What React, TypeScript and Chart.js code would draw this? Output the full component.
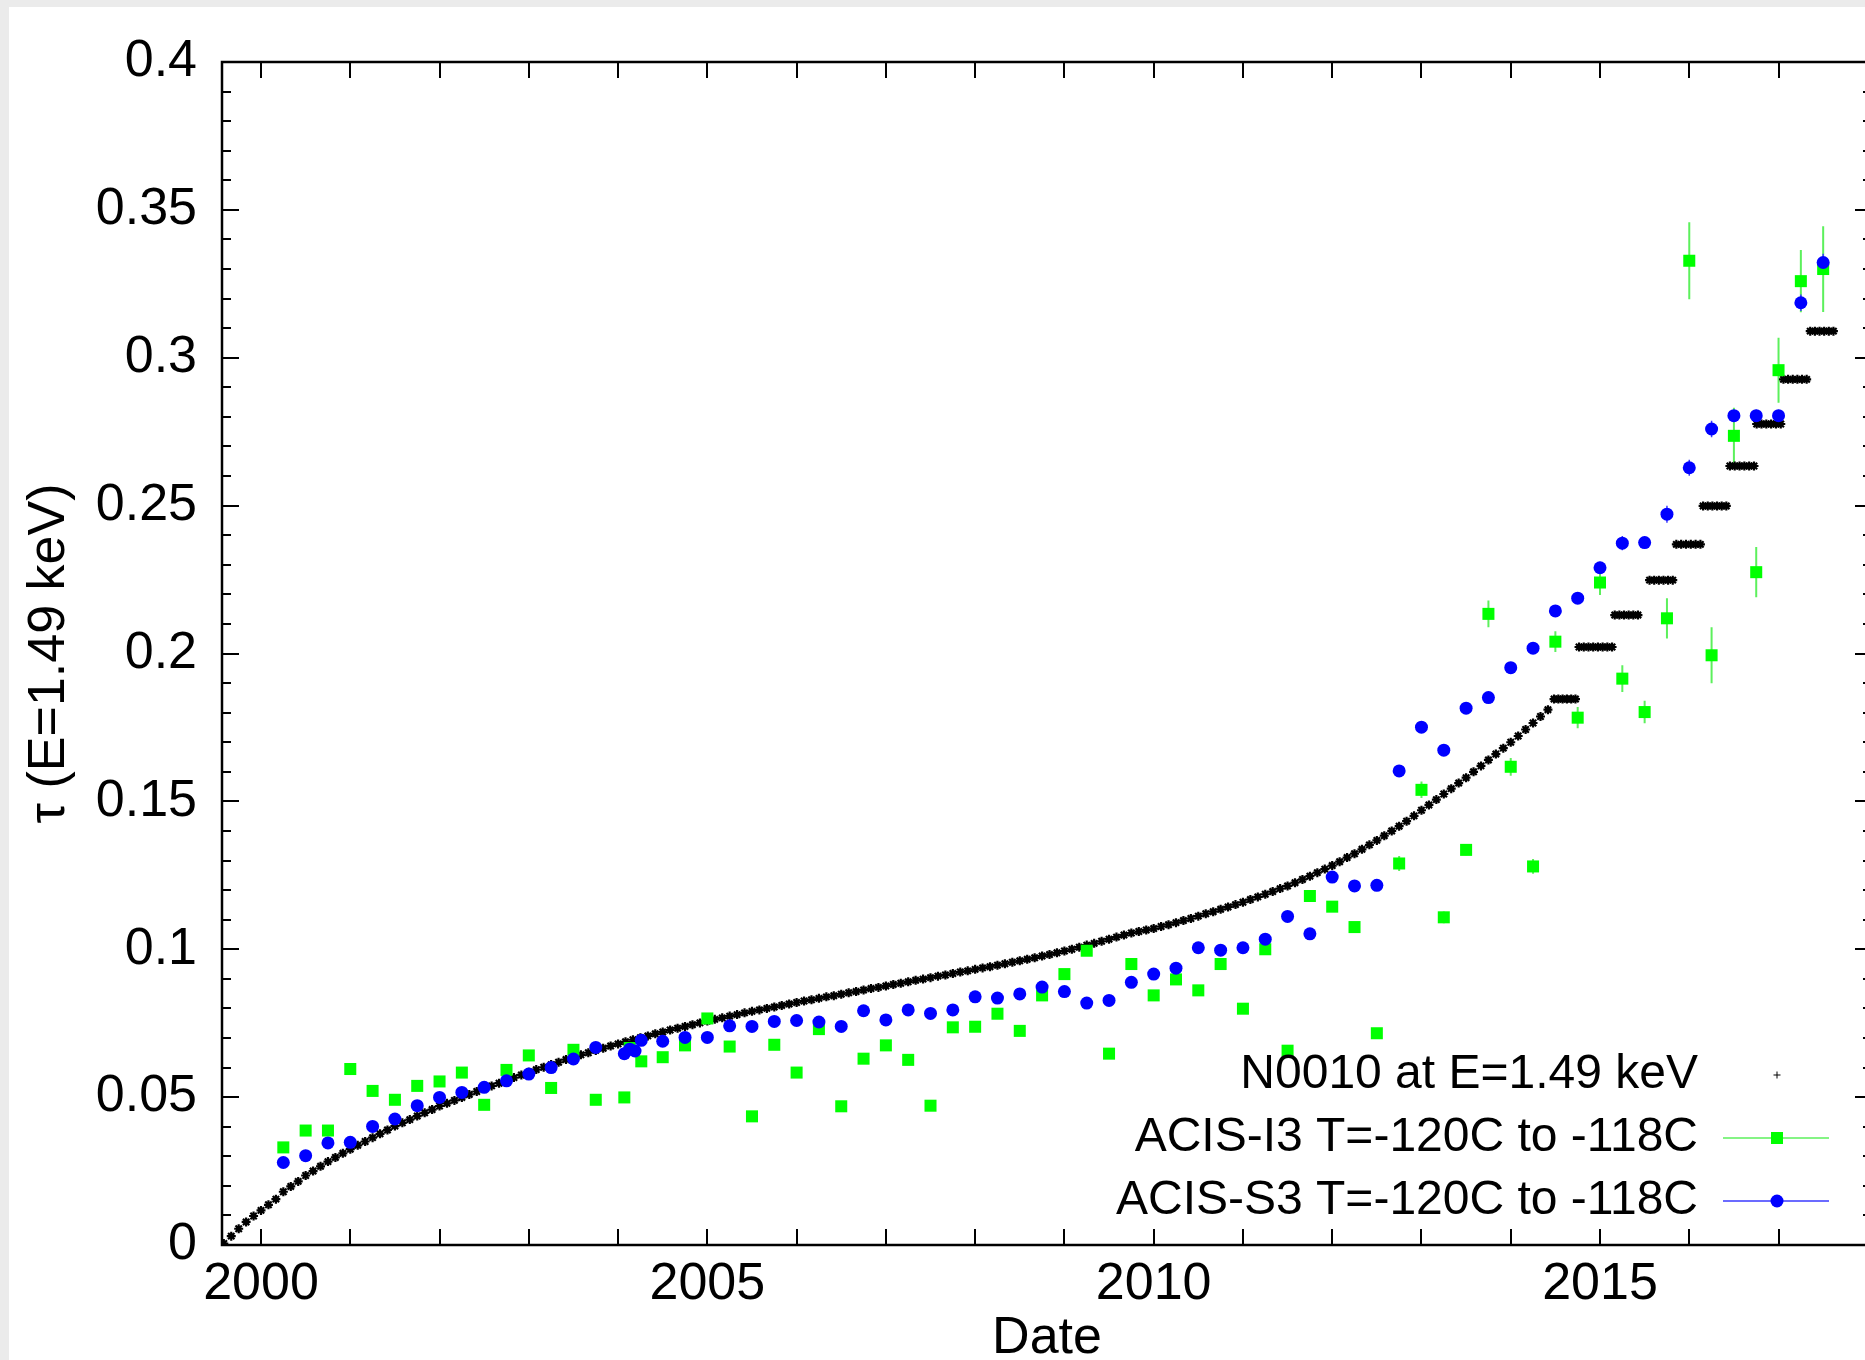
import React, { useEffect, useRef } from 'react';
import { Chart, registerables } from 'chart.js';

Chart.register(...registerables);

const FONT = '"Liberation Sans", Arial, Helvetica, sans-serif';

// ---- axes ----
const X_MIN = 1999.563;
const X_MAX = 2018.047;
const Y_MIN = 0;
const Y_MAX = 0.4;
const X_TICKS = [2000, 2001, 2002, 2003, 2004, 2005, 2006, 2007, 2008, 2009, 2010, 2011, 2012, 2013, 2014, 2015, 2016, 2017];
const X_TICK_LABELS = ['2000', '2005', '2010', '2015'];
const Y_TICK_COUNT = 41; // 0 .. 0.40 by 0.01
const Y_TICK_LABELS = ['0', '0.05', '0.1', '0.15', '0.2', '0.25', '0.3', '0.35', '0.4'];

// ---- N0010 model, monthly from Aug 1999 ----
const MODEL_START = 1999 + 7 / 12;
const MODEL_STEP = 1 / 12;
const MODEL_VALUES = [
  0.0005, 0.0030, 0.0055, 0.0078, 0.0098,
  0.0117, 0.0136, 0.0155, 0.0180, 0.0198, 0.0215, 0.0235, 0.0250, 0.0266, 0.0282, 0.0296, 0.0310,
  0.0324, 0.0337, 0.0350, 0.0363, 0.0376, 0.0389, 0.0402, 0.0413, 0.0424, 0.0436, 0.0447, 0.0458,
  0.0470, 0.0479, 0.0489, 0.0499, 0.0509, 0.0519, 0.0529, 0.0538, 0.0547, 0.0557, 0.0566, 0.0575,
  0.0584, 0.0593, 0.0601, 0.0610, 0.0618, 0.0627, 0.0635, 0.0643, 0.0650, 0.0658, 0.0665, 0.0673,
  0.0680, 0.0687, 0.0694, 0.0701, 0.0707, 0.0714, 0.0720, 0.0727, 0.0733, 0.0739, 0.0745, 0.0751,
  0.0757, 0.0763, 0.0768, 0.0774, 0.0779, 0.0785, 0.0790, 0.0795, 0.0800, 0.0805, 0.0810, 0.0815,
  0.0820, 0.0825, 0.0829, 0.0834, 0.0839, 0.0843, 0.0848, 0.0853, 0.0857, 0.0862, 0.0867, 0.0871,
  0.0876, 0.0881, 0.0885, 0.0890, 0.0895, 0.0899, 0.0904, 0.0909, 0.0913, 0.0918, 0.0923, 0.0927,
  0.0932, 0.0937, 0.0941, 0.0946, 0.0951, 0.0956, 0.0961, 0.0966, 0.0971, 0.0977, 0.0982, 0.0988,
  0.0994, 0.1000, 0.1007, 0.1014, 0.1020, 0.1027, 0.1034, 0.1041, 0.1048, 0.1055, 0.1060, 0.1065,
  0.1070, 0.1077, 0.1083, 0.1090, 0.1097, 0.1104, 0.1112, 0.1120, 0.1127, 0.1135, 0.1143, 0.1151,
  0.1159, 0.1168, 0.1177, 0.1186, 0.1195, 0.1205, 0.1214, 0.1225, 0.1236, 0.1247, 0.1259, 0.1271,
  0.1283, 0.1296, 0.1310, 0.1323, 0.1338, 0.1353, 0.1368, 0.1384, 0.1400, 0.1416, 0.1433, 0.1451,
  0.1470, 0.1488, 0.1506, 0.1525, 0.1543, 0.1562, 0.1580, 0.1600, 0.1620, 0.1640, 0.1660, 0.1680,
  0.1700, 0.1721, 0.1743, 0.1765, 0.1787, 0.1810,
];

// ---- N0010 plateaus after mid-2014 ----
const STEP_FIRST = [2014.485, 2014.765, 2015.165, 2015.555, 2015.855, 2016.155, 2016.455, 2016.755, 2017.055, 2017.355];
const STEP_LAST = [2014.725, 2015.135, 2015.425, 2015.815, 2016.125, 2016.415, 2016.725, 2017.025, 2017.315, 2017.615];
const STEP_VALUES = [0.1846, 0.2022, 0.2130, 0.2248, 0.2369, 0.2499, 0.2634, 0.2776, 0.2927, 0.3090];
const STEP_COUNTS = [6, 8, 6, 6, 6, 6, 6, 6, 6, 6];

// ---- ACIS-I3 ----
const I3_DATES = [
  2000.25, 2000.5, 2000.75, 2001, 2001.25, 2001.5, 2001.75, 2002, 2002.25, 2002.5, 2002.75, 2003, 2003.25, 2003.5, 2003.75,
  2004.07, 2004.13, 2004.26,
  2004.5, 2004.75, 2005, 2005.25, 2005.5, 2005.75, 2006, 2006.25, 2006.5, 2006.75, 2007, 2007.25, 2007.5, 2007.75,
  2008, 2008.25, 2008.5, 2008.75, 2009, 2009.25, 2009.5, 2009.75, 2010, 2010.25, 2010.5, 2010.75, 2011, 2011.25, 2011.5, 2011.75,
  2012, 2012.25, 2012.5, 2012.75, 2013, 2013.25, 2013.5, 2013.75, 2014, 2014.25, 2014.5, 2014.75, 2015, 2015.25, 2015.5, 2015.75,
  2016, 2016.25, 2016.5, 2016.75, 2017, 2017.25, 2017.5,
];
const I3_VALUES = [
  0.0330, 0.0387, 0.0387, 0.0595, 0.0521, 0.0491, 0.0538, 0.0553, 0.0583, 0.0474, 0.0592, 0.0641, 0.0531, 0.0660, 0.0491,
  0.0499, 0.0666, 0.0621,
  0.0635, 0.0675, 0.0766, 0.0671, 0.0435, 0.0677, 0.0583, 0.0730, 0.0469, 0.0630, 0.0675, 0.0626, 0.0471, 0.0736,
  0.0738, 0.0782, 0.0724, 0.0844, 0.0916, 0.0995, 0.0647, 0.0950, 0.0844, 0.0898, 0.0861, 0.0950, 0.0799, 0.1000, 0.0657, 0.1180,
  0.1144, 0.1075, 0.0716, 0.1290, 0.1539, 0.1108, 0.1336, 0.2134, 0.1617, 0.1280, 0.2040, 0.1783, 0.2240, 0.1915, 0.1802, 0.2119,
  0.3328, 0.1994, 0.2736, 0.2275, 0.2958, 0.3259, 0.3300,
];
const I3_ERRORS = [
  0.0010, 0.0010, 0.0010, 0.0010, 0.0010, 0.0010, 0.0010, 0.0010, 0.0010, 0.0010, 0.0010, 0.0010, 0.0010, 0.0010, 0.0010,
  0.0010, 0.0010, 0.0010,
  0.0010, 0.0010, 0.0010, 0.0010, 0.0010, 0.0010, 0.0010, 0.0010, 0.0010, 0.0010, 0.0010, 0.0010, 0.0010, 0.0010,
  0.0010, 0.0010, 0.0010, 0.0010, 0.0010, 0.0010, 0.0010, 0.0010, 0.0010, 0.0010, 0.0010, 0.0010, 0.0010, 0.0010, 0.0010, 0.0012,
  0.0012, 0.0012, 0.0012, 0.0025, 0.0028, 0.0020, 0.0018, 0.0045, 0.0030, 0.0025, 0.0035, 0.0036, 0.0042, 0.0045, 0.0038, 0.0068,
  0.0130, 0.0095, 0.0095, 0.0085, 0.0110, 0.0105, 0.0145,
];

// ---- ACIS-S3 ----
const S3_DATES = [
  2000.25, 2000.5, 2000.75, 2001, 2001.25, 2001.5, 2001.75, 2002, 2002.25, 2002.5, 2002.75, 2003, 2003.25, 2003.5, 2003.75,
  2004.07, 2004.13, 2004.19, 2004.26,
  2004.5, 2004.75, 2005, 2005.25, 2005.5, 2005.75, 2006, 2006.25, 2006.5, 2006.75, 2007, 2007.25, 2007.5, 2007.75,
  2008, 2008.25, 2008.5, 2008.75, 2009, 2009.25, 2009.5, 2009.75, 2010, 2010.25, 2010.5, 2010.75, 2011, 2011.25, 2011.5, 2011.75,
  2012, 2012.25, 2012.5, 2012.75, 2013, 2013.25, 2013.5, 2013.75, 2014, 2014.25, 2014.5, 2014.75, 2015, 2015.25, 2015.5, 2015.75,
  2016, 2016.25, 2016.5, 2016.75, 2017, 2017.25, 2017.5,
];
const S3_VALUES = [
  0.0279, 0.0302, 0.0345, 0.0347, 0.0401, 0.0426, 0.0471, 0.0499, 0.0516, 0.0533, 0.0555, 0.0578, 0.0600, 0.0629, 0.0668,
  0.0647, 0.0662, 0.0656, 0.0692,
  0.0689, 0.0702, 0.0702, 0.0741, 0.0739, 0.0756, 0.0759, 0.0754, 0.0739, 0.0792, 0.0761, 0.0795, 0.0783, 0.0795,
  0.0839, 0.0835, 0.0849, 0.0872, 0.0857, 0.0818, 0.0827, 0.0888, 0.0916, 0.0936, 0.1005, 0.0997, 0.1005, 0.1034, 0.1111, 0.1052,
  0.1244, 0.1214, 0.1216, 0.1603, 0.1751, 0.1673, 0.1815, 0.1851, 0.1952, 0.2018, 0.2144, 0.2187, 0.2290, 0.2373, 0.2375, 0.2471,
  0.2628, 0.2759, 0.2804, 0.2804, 0.2804, 0.3186, 0.3322,
];
const S3_ERRORS = [
  0.0008, 0.0008, 0.0008, 0.0008, 0.0008, 0.0008, 0.0008, 0.0008, 0.0008, 0.0008, 0.0008, 0.0008, 0.0008, 0.0008, 0.0008,
  0.0008, 0.0008, 0.0008, 0.0008,
  0.0008, 0.0008, 0.0008, 0.0008, 0.0008, 0.0008, 0.0008, 0.0008, 0.0008, 0.0008, 0.0008, 0.0008, 0.0008, 0.0008,
  0.0008, 0.0008, 0.0008, 0.0008, 0.0008, 0.0008, 0.0008, 0.0008, 0.0008, 0.0008, 0.0008, 0.0008, 0.0008, 0.0008, 0.0008, 0.0008,
  0.0008, 0.0008, 0.0008, 0.0012, 0.0012, 0.0012, 0.0012, 0.0012, 0.0015, 0.0015, 0.0018, 0.0018, 0.0020, 0.0024, 0.0020, 0.0029,
  0.0027, 0.0028, 0.0020, 0.0020, 0.0020, 0.0028, 0.0030,
];

const LABEL_MODEL = 'N0010 at E=1.49 keV';
const LABEL_I3 = 'ACIS-I3 T=-120C to -118C';
const LABEL_S3 = 'ACIS-S3 T=-120C to -118C';

const GREEN = '#00ff00';
const BLUE = '#0000ff';
const GREEN_BAR = '#5cf05c';
const BLUE_BAR = '#3a3aff';

export default function App() {
  const ref = useRef<HTMLCanvasElement>(null);

  useEffect(() => {
    const canvas = ref.current;
    if (!canvas) return;

    const modelPoints = MODEL_VALUES.map((v, i) => ({ x: MODEL_START + i * MODEL_STEP, y: v }));
    const stepPoints = STEP_VALUES.flatMap((v, s) => {
      const n = STEP_COUNTS[s];
      return Array.from({ length: n }, (_, k) => ({
        x: STEP_FIRST[s] + ((STEP_LAST[s] - STEP_FIRST[s]) * k) / (n - 1),
        y: v,
      }));
    });
    const i3Points = I3_DATES.map((d, i) => ({ x: d, y: I3_VALUES[i] }));
    const s3Points = S3_DATES.map((d, i) => ({ x: d, y: S3_VALUES[i] }));

    const background = {
      id: 'background',
      beforeDraw(chart: any) {
        const { ctx, width, height } = chart;
        ctx.save();
        ctx.fillStyle = '#ebebeb';
        ctx.fillRect(0, 0, width, height);
        ctx.fillStyle = '#ffffff';
        ctx.fillRect(9, 7, width, height);
        ctx.restore();
      },
    };

    const errorBars = {
      id: 'errorBars',
      beforeDatasetsDraw(chart: any) {
        const { ctx, chartArea: a, scales } = chart;
        const xs = scales.x;
        const ys = scales.y;
        ctx.save();
        ctx.beginPath();
        ctx.rect(a.left, a.top, a.right - a.left, a.bottom - a.top);
        ctx.clip();
        const draw = (dates: number[], vals: number[], errs: number[], color: string, w: number) => {
          ctx.strokeStyle = color;
          ctx.lineWidth = w;
          ctx.beginPath();
          dates.forEach((d, i) => {
            const px = xs.getPixelForValue(d);
            ctx.moveTo(px, ys.getPixelForValue(vals[i] - errs[i]));
            ctx.lineTo(px, ys.getPixelForValue(vals[i] + errs[i]));
          });
          ctx.stroke();
        };
        draw(I3_DATES, I3_VALUES, I3_ERRORS, GREEN_BAR, 2);
        draw(S3_DATES, S3_VALUES, S3_ERRORS, BLUE_BAR, 1.5);
        ctx.restore();
      },
    };

    const frameTicks = {
      id: 'frameTicks',
      afterDatasetsDraw(chart: any) {
        const { ctx, chartArea: a, scales } = chart;
        const xs = scales.x;
        const ys = scales.y;
        ctx.save();
        ctx.strokeStyle = '#000';
        ctx.lineWidth = 2;
        ctx.beginPath();
        xs.ticks.forEach((t: any) => {
          const px = Math.round(xs.getPixelForValue(t.value));
          ctx.moveTo(px, a.bottom);
          ctx.lineTo(px, a.bottom - 16);
          ctx.moveTo(px, a.top);
          ctx.lineTo(px, a.top + 16);
        });
        ys.ticks.forEach((t: any, i: number) => {
          const py = Math.round(ys.getPixelForValue(t.value));
          const len = i % 5 === 0 ? 17 : 9;
          ctx.moveTo(a.left, py);
          ctx.lineTo(a.left + len, py);
          ctx.moveTo(a.right, py);
          ctx.lineTo(a.right - len, py);
        });
        ctx.stroke();
        ctx.lineWidth = 2.5;
        ctx.strokeRect(a.left, a.top, a.right - a.left, a.bottom - a.top);
        ctx.restore();
      },
    };

    const keyBox = {
      id: 'keyBox',
      afterDraw(chart: any) {
        const { ctx } = chart;
        const textRight = 1698;
        const sampleLeft = 1723;
        const sampleRight = 1829;
        const markX = 1777;
        const rows = [1075, 1138, 1201];
        const ds = chart.data.datasets;
        ctx.save();
        ctx.font = `48px ${FONT}`;
        ctx.fillStyle = '#000';
        ctx.textAlign = 'right';
        ctx.textBaseline = 'middle';
        ctx.fillText(ds[0].label, textRight, rows[0]);
        ctx.fillText(ds[1].label, textRight, rows[1]);
        ctx.fillText(ds[2].label, textRight, rows[2]);
        // N0010 sample: small plus
        ctx.strokeStyle = '#000';
        ctx.lineWidth = 1;
        ctx.beginPath();
        ctx.moveTo(markX - 3.5, rows[0]);
        ctx.lineTo(markX + 3.5, rows[0]);
        ctx.moveTo(markX, rows[0] - 3.5);
        ctx.lineTo(markX, rows[0] + 3.5);
        ctx.stroke();
        // I3 sample
        ctx.strokeStyle = GREEN_BAR;
        ctx.lineWidth = 1.5;
        ctx.beginPath();
        ctx.moveTo(sampleLeft, rows[1]);
        ctx.lineTo(sampleRight, rows[1]);
        ctx.stroke();
        ctx.fillStyle = GREEN;
        ctx.fillRect(markX - 6, rows[1] - 6, 12, 12);
        // S3 sample
        ctx.strokeStyle = BLUE_BAR;
        ctx.beginPath();
        ctx.moveTo(sampleLeft, rows[2]);
        ctx.lineTo(sampleRight, rows[2]);
        ctx.stroke();
        ctx.fillStyle = BLUE;
        ctx.beginPath();
        ctx.arc(markX, rows[2], 6.5, 0, Math.PI * 2);
        ctx.fill();
        ctx.restore();
      },
    };

    const chart = new Chart(canvas, {
      type: 'scatter',
      data: {
        datasets: [
          {
            label: LABEL_MODEL,
            data: [...modelPoints, ...stepPoints],
            pointStyle: 'star',
            pointRadius: 4.5,
            borderColor: '#000',
            backgroundColor: '#000',
            borderWidth: 2.2,
            order: 2,
          },
          {
            label: LABEL_I3,
            data: i3Points,
            pointStyle: 'rect',
            pointRadius: 8.5,
            backgroundColor: GREEN,
            borderWidth: 0,
            order: 1,
          },
          {
            label: LABEL_S3,
            data: s3Points,
            pointStyle: 'circle',
            pointRadius: 6.5,
            backgroundColor: BLUE,
            borderWidth: 0,
            order: 0,
          },
        ],
      },
      options: {
        responsive: false,
        animation: false,
        devicePixelRatio: 1,
        events: [],
        layout: { autoPadding: false, padding: { top: 62, right: 28, bottom: 0, left: 0 } },
        plugins: { legend: { display: false }, tooltip: { enabled: false } },
        scales: {
          x: {
            type: 'linear',
            position: 'bottom',
            min: X_MIN,
            max: X_MAX,
            grid: { display: false, drawTicks: false },
            border: { display: false },
            afterBuildTicks: (s: any) => {
              s.ticks = X_TICKS.map((v) => ({ value: v }));
            },
            afterFit: (s: any) => {
              s.height = 115;
            },
            ticks: {
              autoSkip: false,
              maxRotation: 0,
              minRotation: 0,
              padding: 14,
              color: '#000',
              font: { family: FONT, size: 52, lineHeight: 1 },
              callback: (v: any) => (X_TICK_LABELS.includes(String(v)) ? String(v) : ''),
            },
            title: {
              display: true,
              text: 'Date',
              color: '#000',
              font: { family: FONT, size: 52, lineHeight: 0.885 },
              padding: { top: 0, bottom: -2 },
            },
          },
          y: {
            type: 'linear',
            position: 'left',
            min: Y_MIN,
            max: Y_MAX,
            grid: { display: false, drawTicks: false },
            border: { display: false },
            afterBuildTicks: (s: any) => {
              s.ticks = Array.from({ length: Y_TICK_COUNT }, (_, i) => ({ value: i / 100 }));
            },
            afterFit: (s: any) => {
              s.width = 222;
            },
            ticks: {
              autoSkip: false,
              padding: 25,
              color: '#000',
              font: { family: FONT, size: 52, lineHeight: 1 },
              callback: (_v: any, i: number) => (i % 5 === 0 ? Y_TICK_LABELS[i / 5] : ''),
            },
            title: {
              display: true,
              text: 'τ (E=1.49 keV)',
              color: '#000',
              font: { family: FONT, size: 52, lineHeight: 1 },
              padding: { top: 24, bottom: 0 },
            },
          },
        },
      },
      plugins: [background, errorBars, frameTicks, keyBox],
    } as any);

    return () => chart.destroy();
  }, []);

  return (
    <div
      style={{
        position: 'fixed',
        left: 0,
        top: 0,
        width: 1865,
        height: 1360,
        overflow: 'hidden',
        background: '#fff',
      }}
    >
      <canvas ref={ref} width={1900} height={1360} style={{ display: 'block', width: 1900, height: 1360 }} />
    </div>
  );
}
